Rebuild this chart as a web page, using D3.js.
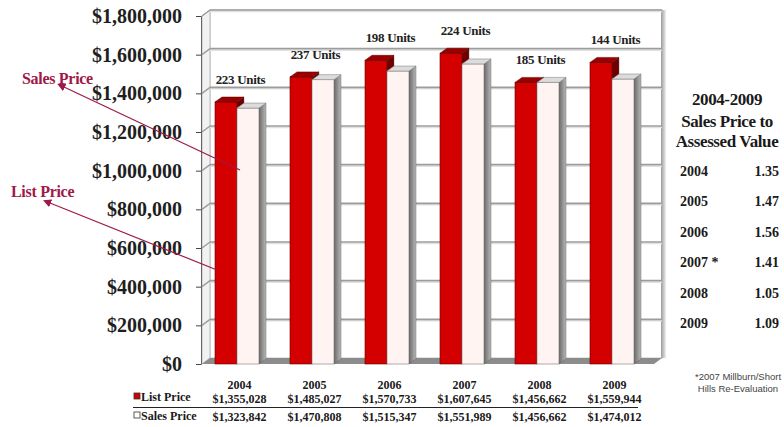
<!DOCTYPE html>
<html>
<head>
<meta charset="utf-8">
<script src="https://cdn.jsdelivr.net/npm/d3@7"></script>
<style>
  body { margin: 0; background: #fff; }
  text { font-family: "Liberation Serif", serif; font-weight: bold; }
  text.note { font-family: "Liberation Sans", sans-serif; font-weight: normal; }
</style>
</head>
<body>
<svg id="chart" width="784" height="427"></svg>
<script>
// data
const years = ['2004', '2005', '2006', '2007', '2008', '2009'];
const listPrice = [1355028, 1485027, 1570733, 1607645, 1456662, 1559944];
const salesPrice = [1323842, 1470808, 1515347, 1551989, 1456662, 1474012];
const units = [223, 237, 198, 224, 185, 144];
const yTicks = [0, 200000, 400000, 600000, 800000, 1000000, 1200000, 1400000, 1600000, 1800000];
const ratioYears = ['2004', '2005', '2006', '2007 *', '2008', '2009'];
const ratios = ['1.35', '1.47', '1.56', '1.41', '1.05', '1.09'];

const svg = d3.select('#chart');
const maroon = '#a01848';
const fmt = d3.format('$,');

const x = d3.scaleBand().domain(years).range([202, 652]);
const sub = d3.scaleBand().domain(['list', 'sales']).range([13, 57]);
const y = d3.scaleLinear().domain([0, 1800000]).range([364, 16]);

// 3d offsets
const dx = 7, dy = -5;     // bar depth
const wx = 8, wy = -6;     // wall depth
const x0 = x.range()[0], x1 = x.range()[1];
const floorY = y(0);

const defs = svg.append('defs');
const sideGrad = defs.append('linearGradient').attr('id', 'side').attr('x1', 0).attr('x2', 1);
sideGrad.append('stop').attr('offset', 0).attr('stop-color', '#6a6a6a');
sideGrad.append('stop').attr('offset', 1).attr('stop-color', '#b8b8b8');
const edgeGrad = defs.append('linearGradient').attr('id', 'edge').attr('x1', 0).attr('x2', 1);
edgeGrad.append('stop').attr('offset', 0).attr('stop-color', '#9a9a9a');
edgeGrad.append('stop').attr('offset', 1).attr('stop-color', '#f0f0f0');

// walls
const wall = svg.append('g');
wall.append('rect')
  .attr('x', x0 + wx).attr('y', y(1800000) + wy)
  .attr('width', x1 - x0 + 2).attr('height', floorY - y(1800000))
  .attr('fill', '#fff').attr('stroke', '#c4c4c4');
wall.append('path')
  .attr('d', `M${x0},${y(1800000)}L${x0 + wx},${y(1800000) + wy}L${x0 + wx},${floorY + wy}L${x0},${floorY}Z`)
  .attr('fill', '#f2f2f2').attr('stroke', '#bbb');
wall.append('rect')
  .attr('x', x1 + wx + 1).attr('y', y(1800000) + wy)
  .attr('width', 5).attr('height', floorY - y(1800000))
  .attr('fill', 'url(#edge)');

// gridlines
const grid = svg.append('g');
yTicks.filter(t => t > 0).forEach(t => {
  grid.append('line')
    .attr('x1', x0 + wx).attr('x2', x1 + wx + 2)
    .attr('y1', y(t) + wy + 1.5).attr('y2', y(t) + wy + 1.5)
    .attr('stroke', '#e2e2e2').attr('stroke-width', 1.5);
  grid.append('line')
    .attr('x1', x0 + wx).attr('x2', x1 + wx + 2)
    .attr('y1', y(t) + wy).attr('y2', y(t) + wy)
    .attr('stroke', '#9c9c9c').attr('stroke-width', 1.6);
  grid.append('line')
    .attr('x1', x0).attr('x2', x0 + wx)
    .attr('y1', y(t)).attr('y2', y(t) + wy)
    .attr('stroke', '#9c9c9c').attr('stroke-width', 1.4);
});

// floor
svg.append('path')
  .attr('d', `M${x0},${floorY}L${x0 + wx},${floorY + wy}L${x1 + wx + 2},${floorY + wy}L${x1 + 2},${floorY}Z`)
  .attr('fill', '#8c8c8c');

// axis
const axis = svg.append('g')
  .attr('transform', `translate(${x0 - 1},0)`)
  .call(d3.axisLeft(y).tickValues(yTicks).tickFormat(fmt).tickSize(5).tickPadding(14));
axis.select('.domain').attr('stroke', '#666');
axis.selectAll('.tick line').attr('stroke', '#444');
axis.selectAll('.tick text')
  .attr('font-size', 20).attr('fill', '#1e1e1e')
  .attr('font-family', '"Liberation Serif", serif').attr('font-weight', 'bold');

// bars
function bar(g, xl, val, c) {
  const w = sub.bandwidth();
  const top = y(val);
  g.append('path')
    .attr('d', `M${xl + w},${top}L${xl + w + dx},${top + dy}L${xl + w + dx},${floorY + dy}L${xl + w},${floorY}Z`)
    .attr('fill', c.side).attr('stroke', '#555').attr('stroke-width', 0.4);
  g.append('rect')
    .attr('x', xl).attr('y', top).attr('width', w).attr('height', floorY - top)
    .attr('fill', c.front).attr('stroke', c.stroke).attr('stroke-width', 0.6);
  g.append('path')
    .attr('d', `M${xl},${top}L${xl + dx},${top + dy}L${xl + w + dx},${top + dy}L${xl + w},${top}Z`)
    .attr('fill', c.top).attr('stroke', c.stroke).attr('stroke-width', 0.5);
}
const bars = svg.append('g');
years.forEach((yr, i) => {
  const g = bars.append('g');
  bar(g, x(yr) + sub('list'), listPrice[i], { front: '#d40000', top: '#9a0000', side: '#700000', stroke: '#5a0000' });
  bar(g, x(yr) + sub('sales'), salesPrice[i], { front: '#fff4f1', top: '#dcdcdc', side: 'url(#side)', stroke: '#777' });
});

// units labels
svg.append('g').selectAll('text')
  .data(years)
  .join('text')
  .attr('x', d => x(d) + x.bandwidth() / 2 + 1)
  .attr('y', (d, i) => y(listPrice[i]) - 18)
  .attr('text-anchor', 'middle')
  .attr('font-size', 13).attr('fill', '#222')
  .attr('letter-spacing', -0.3)
  .text((d, i) => `${units[i]} Units`);

// data table
const table = svg.append('g').attr('font-size', 12).attr('fill', '#1a1a1a');
years.forEach((yr, i) => {
  const cx = x(yr) + x.bandwidth() / 2;
  table.append('text').attr('x', cx).attr('y', 389).attr('text-anchor', 'middle').attr('font-size', 12).text(yr);
  table.append('text').attr('x', cx).attr('y', 402.5).attr('text-anchor', 'middle').text(fmt(listPrice[i]));
  table.append('text').attr('x', cx).attr('y', 421).attr('text-anchor', 'middle').text(fmt(salesPrice[i]));
});
table.append('line').attr('x1', 133).attr('x2', 638).attr('y1', 407.5).attr('y2', 407.5)
  .attr('stroke', '#222').attr('stroke-width', 1);
table.append('rect').attr('x', 134).attr('y', 393).attr('width', 6).attr('height', 6)
  .attr('fill', '#d40000').attr('stroke', '#333').attr('stroke-width', 0.8);
table.append('text').attr('x', 141).attr('y', 401).text('List Price');
table.append('rect').attr('x', 134).attr('y', 412).attr('width', 6).attr('height', 6)
  .attr('fill', '#fff').attr('stroke', '#333').attr('stroke-width', 0.8);
table.append('text').attr('x', 141).attr('y', 420).text('Sales Price');

// annotations
defs.append('marker').attr('id', 'arrow')
  .attr('viewBox', '0 0 10 10').attr('refX', 1).attr('refY', 5)
  .attr('markerWidth', 7).attr('markerHeight', 7).attr('orient', 'auto-start-reverse')
  .append('path').attr('d', 'M0,0L10,5L0,10Z').attr('fill', maroon);
const ann = svg.append('g');
ann.append('text').attr('x', 22).attr('y', 84).attr('font-size', 16).attr('fill', maroon)
  .attr('letter-spacing', -0.3).text('Sales Price');
ann.append('line').attr('x1', 240).attr('y1', 170).attr('x2', 64).attr('y2', 87)
  .attr('stroke', maroon).attr('stroke-width', 1.2).attr('marker-end', 'url(#arrow)');
ann.append('text').attr('x', 11).attr('y', 197).attr('font-size', 16).attr('fill', maroon)
  .attr('letter-spacing', -0.3).text('List Price');
ann.append('line').attr('x1', 217).attr('y1', 270).attr('x2', 50).attr('y2', 203)
  .attr('stroke', maroon).attr('stroke-width', 1.2).attr('marker-end', 'url(#arrow)');

// right panel
const panel = svg.append('g').attr('fill', '#1a1a1a');
[['2004-2009', 105], ['Sales Price to', 127], ['Assessed Value', 147]].forEach(([t, yy]) => {
  panel.append('text').attr('x', 727).attr('y', yy).attr('text-anchor', 'middle')
    .attr('font-size', 17).attr('letter-spacing', -0.4).text(t);
});
const rowY = d3.scalePoint().domain(ratioYears).range([176, 328]);
ratioYears.forEach((yr, i) => {
  panel.append('text').attr('x', 680).attr('y', rowY(yr)).attr('font-size', 14).text(yr);
  panel.append('text').attr('x', 779).attr('y', rowY(yr)).attr('text-anchor', 'end').attr('font-size', 14).text(ratios[i]);
});
[['*2007 Millburn/Short', 380], ['Hills Re-Evaluation', 392]].forEach(([t, yy]) => {
  panel.append('text').attr('class', 'note').attr('x', 738).attr('y', yy).attr('text-anchor', 'middle')
    .attr('font-size', 9.5).attr('fill', '#444').text(t);
});
</script>
</body>
</html>
